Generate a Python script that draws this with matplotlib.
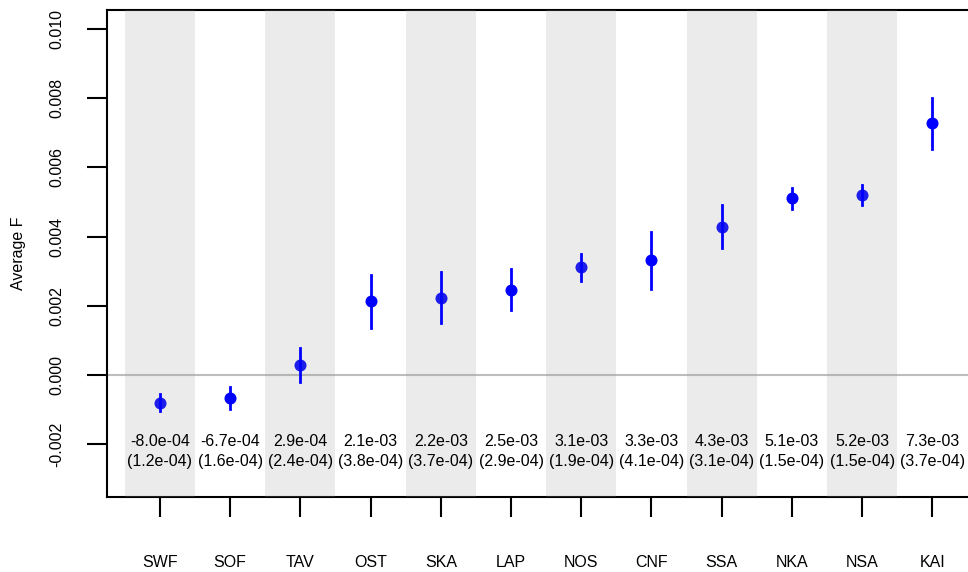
import matplotlib
matplotlib.use("Agg")
import matplotlib.pyplot as plt

## Data ##

pops = ["SWF", "SOF", "TAV", "OST", "SKA", "LAP", "NOS", "CNF", "SSA", "NKA", "NSA", "KAI"]
meanF = [-0.80e-3, -0.67e-3, 0.29e-3, 2.13e-3, 2.23e-3, 2.47e-3,
         3.11e-3, 3.32e-3, 4.29e-3, 5.11e-3, 5.20e-3, 7.27e-3]
seF = [1.2e-4, 1.6e-4, 2.4e-4, 3.8e-4, 3.7e-4, 2.9e-4,
       1.9e-4, 4.1e-4, 3.1e-4, 1.5e-4, 1.5e-4, 3.7e-4]
yticks = [-0.002, 0.000, 0.002, 0.004, 0.006, 0.008, 0.010]

## Plot ##

plt.rcParams['font.family'] = ['Liberation Sans', 'DejaVu Sans']

fig = plt.figure(figsize=(9.68, 5.72), dpi=100)
ax = fig.add_axes([0.1105, 0.1311, 0.907, 0.8514])

xs = list(range(1, len(pops) + 1))

#points first, shaded bands go over them, bars on top
ax.scatter(xs, meanF, s=75, color="#0000ff", zorder=2, linewidths=0)

for i in xs:
    if i % 2 == 1:
        ax.axvspan(i - 0.5, i + 0.5, color="#9b9b9b", alpha=0.2, lw=0, zorder=3)

ax.axhline(0, color="#bdbdbd", lw=1.5, zorder=1)

for x, m, s in zip(xs, meanF, seF):
    ax.plot([x, x], [m - 2 * s, m + 2 * s], color="#0000ff", lw=2.0, zorder=4)
    ax.text(x, -0.00191, "{:.1e}".format(m), ha="center", va="center", fontsize=11.5, zorder=5)
    ax.text(x, -0.00251, "({:.1e})".format(s), ha="center", va="center", fontsize=11.5, zorder=5)

ax.set_xlim(0.245, 12.75)
ax.set_ylim(-0.003526, 0.01055)

ax.set_yticks(yticks)
ax.set_yticklabels(["{:.3f}".format(v) for v in yticks], rotation=90, va="center", fontsize=11.5)
ax.set_xticks(xs)
ax.set_xticklabels(pops, fontsize=11.5)

ax.tick_params(axis="both", direction="out", length=14.5, width=1.5)
ax.tick_params(axis="y", pad=16)
ax.tick_params(axis="x", pad=27)

for sp in ax.spines.values():
    sp.set_linewidth(1.5)

ax.set_ylabel("Average F", fontsize=11.5)
ax.yaxis.set_label_coords(-0.092, 0.5)

fig.savefig("out.png", dpi=100)
